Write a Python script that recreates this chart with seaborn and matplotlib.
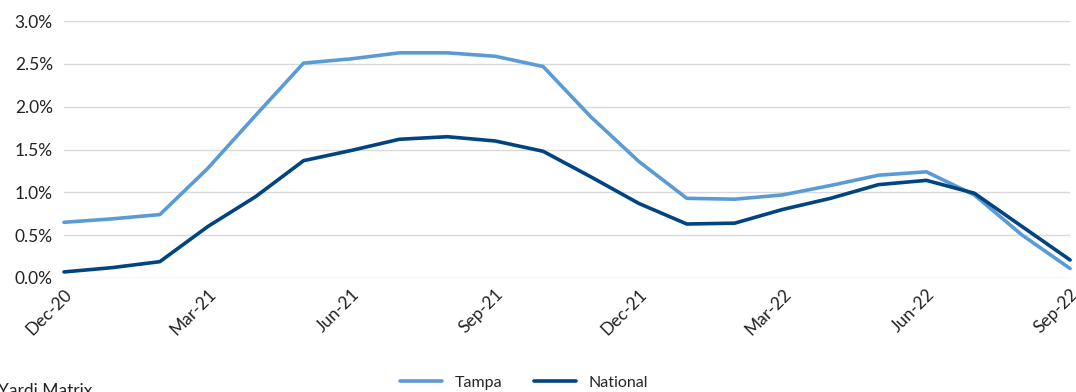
import numpy as np
import pandas as pd
import matplotlib.pyplot as plt
import seaborn as sns
from matplotlib.ticker import FuncFormatter

# Monthly series, Dec-20 .. Sep-22
months = ['Dec-20', 'Jan-21', 'Feb-21', 'Mar-21', 'Apr-21', 'May-21', 'Jun-21', 'Jul-21',
          'Aug-21', 'Sep-21', 'Oct-21', 'Nov-21', 'Dec-21', 'Jan-22', 'Feb-22', 'Mar-22',
          'Apr-22', 'May-22', 'Jun-22', 'Jul-22', 'Aug-22', 'Sep-22']
tampa = [0.65, 0.69, 0.74, 1.28, 1.90, 2.51, 2.56, 2.63, 2.63, 2.59, 2.47, 1.88,
         1.36, 0.93, 0.92, 0.97, 1.08, 1.20, 1.24, 0.97, 0.50, 0.11]
national = [0.07, 0.12, 0.19, 0.60, 0.95, 1.37, 1.49, 1.62, 1.65, 1.60, 1.48, 1.18,
            0.87, 0.63, 0.64, 0.80, 0.93, 1.09, 1.14, 0.99, 0.60, 0.21]
series_names = ['Tampa', 'National']
colors = ['#5B9BD5', '#004481']

df = pd.DataFrame({'month': months * 2,
                   'value': tampa + national,
                   'series': [series_names[0]] * len(months) + [series_names[1]] * len(months)})
df['pos'] = df.groupby('series').cumcount()

sns.set_style('white')
plt.rcParams['font.family'] = ['Lato', 'DejaVu Sans']

fig = plt.figure(figsize=(10.76, 3.92), dpi=100)
ax = fig.add_axes([0.0595, 0.291, 0.935, 0.655])

sns.lineplot(data=df, x='pos', y='value', hue='series', hue_order=series_names,
             palette=colors, linewidth=2.6, ax=ax, legend=False, clip_on=False)

ax.set_xlim(0, len(months) - 1)
ax.set_ylim(0, 3.0)
ax.set_yticks(np.arange(0, 3.01, 0.5))
ax.yaxis.set_major_formatter(FuncFormatter(lambda v, p: f'{v:.1f}%'))
ax.set_xticks(range(0, len(months), 3))
ax.set_xticklabels(months[::3], rotation=45, ha='right', rotation_mode='anchor')
ax.tick_params(axis='both', labelsize=12.5, colors='#222222', length=0)
ax.tick_params(axis='x', pad=6)
ax.tick_params(axis='y', pad=8)
ax.grid(axis='y', color='#d9d9d9', linewidth=1)
ax.set_axisbelow(True)
for s in ax.spines.values():
    s.set_visible(False)
ax.set_xlabel('')
ax.set_ylabel('')

handles = [plt.Line2D([], [], color=c, linewidth=2.6) for c in colors]
fig.legend(handles, series_names, loc='center', bbox_to_anchor=(0.487, 0.024), ncol=2,
           frameon=False, fontsize=11.5, handlelength=2.6, columnspacing=2.0)

fig.text(-0.002, 0.024, 'Yardi Matrix', fontsize=12.5, va='top', ha='left', color='#222222')

plt.savefig('out.png', dpi=100, facecolor='white')
